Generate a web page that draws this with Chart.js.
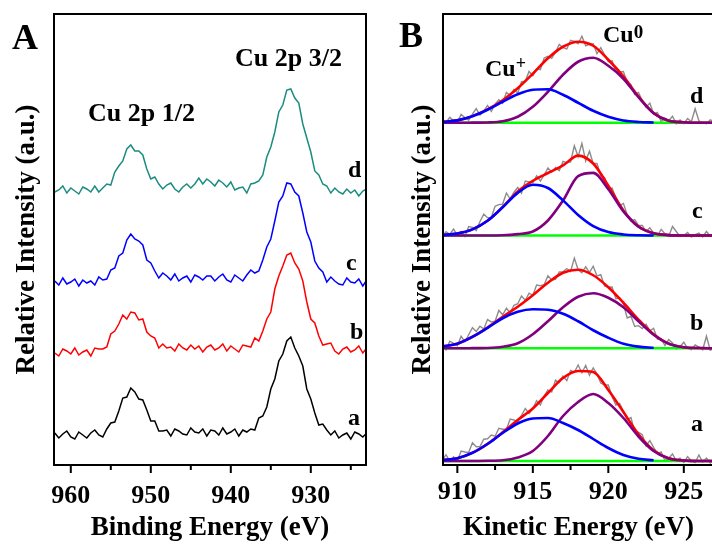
<!DOCTYPE html>
<html>
<head>
<meta charset="utf-8">
<script src="https://cdn.jsdelivr.net/npm/chart.js@4.4.0/dist/chart.umd.min.js"></script>
<style>
html, body { margin: 0; padding: 0; background: #fff; overflow: hidden; }
#wrap { position: relative; width: 712px; height: 545px; overflow: hidden; }
#cA { position: absolute; left: 0; top: 0; }
#cB { position: absolute; left: 380px; top: 0; }
.lbl { position: absolute; font-family: "Liberation Serif", "Times New Roman", serif; font-weight: bold; color: #000; white-space: nowrap; line-height: 1; }
.sup { position: relative; }
</style>
</head>
<body>
<div id="wrap">
  <canvas id="cA" width="380" height="545"></canvas>
  <canvas id="cB" width="340" height="545"></canvas>

  <div class="lbl" style="font-size:36px;left:12px;top:19px">A</div>
  <div class="lbl" style="font-size:36px;left:399px;top:17px">B</div>
  <div class="lbl" style="font-size:26px;left:235px;top:45px">Cu 2p 3/2</div>
  <div class="lbl" style="font-size:26px;left:88px;top:100px">Cu 2p 1/2</div>
  <div class="lbl" style="font-size:24px;left:348px;top:157px">d</div>
  <div class="lbl" style="font-size:24px;left:346px;top:250px">c</div>
  <div class="lbl" style="font-size:24px;left:350px;top:319px">b</div>
  <div class="lbl" style="font-size:24px;left:348px;top:405px">a</div>
  <div class="lbl" style="font-size:24px;left:690px;top:83px">d</div>
  <div class="lbl" style="font-size:24px;left:692px;top:198px">c</div>
  <div class="lbl" style="font-size:24px;left:690px;top:310px">b</div>
  <div class="lbl" style="font-size:24px;left:691px;top:411px">a</div>
  <div class="lbl" style="font-size:24px;left:485px;top:56px">Cu<span class="sup" style="font-size:18px;top:-7px">+</span></div>
  <div class="lbl" style="font-size:24px;left:603px;top:22px">Cu<span class="sup" style="font-size:19px;top:-4px">0</span></div>
</div>

<script>
// ---- panel A : Cu 2p spectra (binding energy, stacked by hand as in the figure)
const BE = [962,961.5,961,960.5,960,959.5,959,958.5,958,957.5,
  957,956.5,956,955.5,955,954.5,954,953.5,953,952.5,
  952,951.5,951,950.5,950,949.5,949,948.5,948,947.5,
  947,946.5,946,945.5,945,944.5,944,943.5,943,942.5,
  942,941.5,941,940.5,940,939.5,939,938.5,938,937.5,
  937,936.5,936,935.5,935,934.5,934,933.5,933,932.5,
  932,931.5,931,930.5,930,929.5,929,928.5,928,927.5,
  927,926.5,926,925.5,925,924.5,924,923.5,923];

const A_a = [32,27,31,34,28,26,33,30,27,32, 35,30,28,36,42,43,54,67,68,77,
  73,66,65,55,44,44,34,34,35,29, 36,34,31,30,37,33,32,36,29,35,
  34,30,37,31,33,36,29,35,33,36, 35,47,49,58,76,86,104,111,124,128,
  117,109,99,76,66,52,40,41,35,30, 34,27,30,32,26,33,31,28,32];
const A_b = [112,109,116,114,111,117,110,113,115,109, 117,116,116,118,131,134,141,150,146,153,
  152,145,146,133,129,127,117,121,117,118, 114,121,117,115,120,116,119,113,118,120,
  115,117,121,114,119,116,113,120,119,118, 127,124,134,146,153,176,189,199,210,212,
  202,196,184,163,146,142,129,120,121,122, 114,111,116,118,113,115,119,112,117];
const A_c = [184,180,187,181,183,186,179,185,182,184, 180,188,185,186,195,197,209,212,225,231,
  226,224,220,205,202,194,187,192,189,185, 191,184,187,189,183,190,188,185,189,189,
  184,188,191,185,183,190,187,184,190,195, 192,194,205,218,226,244,263,269,282,281,
  273,269,252,233,223,204,197,193,183,188, 184,181,180,187,183,182,186,179,185];
const A_d = [273,275,279,272,277,274,271,278,276,273, 279,273,277,281,280,293,299,304,316,320,
  314,314,310,296,286,288,281,276,280,282, 276,273,278,281,277,281,287,281,286,283,
  279,285,282,278,283,275,277,278,272,281, 282,284,290,308,318,333,353,360,375,376,
  367,362,341,327,313,294,290,281,279,272, 277,273,271,276,272,275,269,274,276];

const TICKS_A = [960, 950, 940, 930];
const MINOR_A = [955, 945, 935, 925];

// ---- panel B : Cu LMM (kinetic energy), four sub-panels d, c, b, a
const KE = [909,909.25,909.5,909.75,910,910.25,910.5,910.75,911,911.25,
  911.5,911.75,912,912.25,912.5,912.75,913,913.25,913.5,913.75,
  914,914.25,914.5,914.75,915,915.25,915.5,915.75,916,916.25,
  916.5,916.75,917,917.25,917.5,917.75,918,918.25,918.5,918.75,
  919,919.25,919.5,919.75,920,920.25,920.5,920.75,921,921.25,
  921.5,921.75,922,922.25,922.5,922.75,923,923.25,923.5,923.75,
  924,924.25,924.5,924.75,925,925.25,925.5,925.75,926,926.25,
  926.5,926.75,927];

const grayD = [3.8,0.1,5.5,1.9,0.4,8.3,5.2,2.4,8.6,14.1, 7.7,11.5,17.3,11.5,18.7,23.1,19.5,30.4,27.3,33.4,
  29.5,41,41.5,51.3,47,54,53,64.8,66.5,64.5, 70.5,78.3,75,73.8,82.5,81.3,79,86.5,77,78.5,
  79,69,75,68,61,62,51,50.7,51.3,40.2, 38,28.2,30.3,21.9,15.5,19.6,8.7,10.4,1,4.5,
  2,6.5,-1,2.8,-1,4.3,1,14,2,0, -1,3,1];
const grayC = [-2,3.8,1.1,6.5,0,3.9,-1,9,8.1,5, 14,21.4,17.7,18,29.3,30.9,31.4,42.5,36.5,43.3,
  48,42.3,54.5,53.6,52.7,59.6,54.5,60.5,67.5,63.3, 68,65,74.1,72.8,73.5,89.7,78.9,92.2,74.5,84.3,
  72,72,60,57.9,46.7,47.4,38,30,32.1,20.8, 14.5,15.8,10,10,4,7.7,2.3,-0.3,6.1,1.8,
  -1,9,4,-1,0,3,-1.5,1,2.5,-1.5, 4,-0.5,1.5];
const grayB = [3.8,-1.5,7,4.8,2.6,12,6.5,13.5,20.5,16.8, 22,19.3,28.7,26.3,27,37.8,33.5,40,35.5,43,
  44.5,52.3,48,55,53,63.3,62.5,63.5,72.5,68.3, 69,76.3,76.5,79.7,76.8,90.2,78.5,75.5,81.5,75.8,
  82,72.3,73.5,62.3,61,61.3,49.5,50.5,44.5,30.3, 32,21.8,22.6,19.8,24,17.5,20,9.3,9.5,2.6,
  8.6,5.4,-0.8,1.6,6,-0.2,-1.5,3.4,1.2,-1.5, 12,-2,0];
const grayA = [1,6.3,-0.3,4.2,-0.2,9.9,9,8.6,18.2,14.3, 14.5,21.8,22.2,26,24.8,32.7,31.7,31.8,42,41,
  39,45.7,52.5,47.5,52.5,60.3,56,65,71,69, 81,78.5,85,80.3,90.5,88.8,96,88.3,95.5,85.8,
  93,87,78,76,76,64.5,56,57.5,50,41.3, 43.5,29.2,28.8,26.4,15,20.4,13.7,7.4,9,0.4,
  2.7,7,0.2,2.9,-1.5,4.4,0.2,-1.5,6,-1, 3,-2,1];

// fitted components, sampled every 1 eV
const FIT_KE = [909,910,911,912,913,914,915,916,917,918,919,920,921,922,923,924,925,926,927];
const cuPlusD = [0.8,2.4,6.5,13,21,28.5,33,33.5,28,20,12,6,2.3,0.8,0.2,null,null,null,null];
const cuZeroD = [0,0,0.1,0.3,1.5,6,16,31,48,61,65,57,44,25.5,9.5,2,0.5,0,0];
const envD    = [0.8,2.4,6.6,13.3,22.5,34.5,49,64.5,76,81,77,63,46.3,26.3,9.7,2,0.5,0,0];
const cuPlusC = [0.5,2,6.1,14.7,28.2,42.6,50.7,47.5,35.1,20.5,9.4,3.4,1,0.2,0,null,null,null,null];
const cuZeroC = [0,0,0,0,0.2,1.4,4,15,35,59.4,62.6,46.3,24.1,8.8,2.3,0.4,0,0,0];
const envC    = [0.5,2,6.1,14.7,28.4,44,54.7,62.5,70.1,79.9,72,49.7,25.1,9,2.3,0.4,0,0,0];
const cuPlusB = [1.8,4.6,11.4,20.4,30,36.5,39,38.5,34.5,27,18,10.5,4.5,1.6,0.5,null,null,null,null];
const cuZeroB = [0,0,0.1,0.3,1.5,5,14,27,41,51.5,55,50.5,41,27,13.5,4.5,1,0.2,0];
const envB    = [1.8,4.6,11.5,20.7,31.5,41.5,53,65.5,75.5,78.5,73,61,45.5,28.6,14,4.6,1,0.2,0];
const cuPlusA = [1,2.8,8.2,17,28,37.5,42.5,43,38,31,22,13,6,2.3,0.7,null,null,null,null];
const cuZeroA = [0,0,0,0.2,0.7,3.5,10,25,45,59,67,58,43,24.5,10,2.5,0.5,0,0];
const envA    = [1,2.8,8.2,17.2,28.7,41,52.5,68,83,90,89,71,49,26.8,10.7,2.7,0.5,0,0];

const BASE_KE = [909, 927];
const BASE_Y = [0, 0];

const TICKS_B = [910, 915, 920, 925];
const MINOR_B = [912.5, 917.5, 922.5];

const FAM = '"Liberation Serif", "Times New Roman", serif';

function pts(xs, ys) { return xs.map((x, i) => ({ x: x, y: ys[i] })); }

// black frame + outward tick marks (long major, short minor)
const frameTicks = {
  id: 'frameTicks',
  afterDraw(chart, args, opts) {
    const { ctx, chartArea: { left, right, top, bottom } } = chart;
    const xs = chart.scales.x;
    ctx.save();
    ctx.strokeStyle = '#000';
    ctx.lineWidth = 2;
    ctx.strokeRect(left, top, right - left, bottom - top);
    ctx.beginPath();
    opts.major.forEach(v => { const p = xs.getPixelForValue(v); ctx.moveTo(p, bottom); ctx.lineTo(p, bottom + 8); });
    opts.minor.forEach(v => { const p = xs.getPixelForValue(v); ctx.moveTo(p, bottom); ctx.lineTo(p, bottom + 5); });
    ctx.stroke();
    ctx.restore();
  }
};

function xAxis(min, max, ticks, title, pad) {
  return {
    type: 'linear', min: min, max: max,
    grid: { display: false, drawTicks: false }, border: { display: false },
    afterBuildTicks: s => { s.ticks = ticks.map(v => ({ value: v })); },
    ticks: { autoSkip: false, maxRotation: 0, padding: pad, color: '#000', font: { family: FAM, size: 26, weight: 'bold' } },
    title: { display: true, text: title, color: '#000', font: { family: FAM, size: 27, weight: 'bold' }, padding: { top: 0, bottom: 1 } },
    afterFit: s => { s.height = 80; }
  };
}

function yTitle(width, pad) {
  return {
    position: 'left', min: 0, max: 1,
    grid: { display: false, drawTicks: false }, border: { display: false },
    ticks: { display: false },
    title: { display: true, text: 'Relative Intensity (a.u.)', color: '#000', font: { family: FAM, size: 27, weight: 'bold' }, padding: { top: pad, bottom: 0 } },
    afterFit: s => { s.width = width; }
  };
}

// ---- chart A
function spec(ys, color) {
  return { data: pts(BE, ys), yAxisID: 'y', borderColor: color, borderWidth: 1.5, pointRadius: 0, tension: 0 };
}
const axA = xAxis(923.1, 962.1, TICKS_A, 'Binding Energy (eV)', 16);
axA.reverse = true;
const yA = yTitle(54, 11);
yA.min = 0; yA.max = 451;

new Chart(document.getElementById('cA'), {
  type: 'line',
  data: { datasets: [spec(A_d, '#1a8c80'), spec(A_c, '#0000ff'), spec(A_b, '#ff0000'), spec(A_a, '#000000')] },
  options: {
    responsive: false, animation: false, events: [],
    layout: { padding: { left: 0, top: 14, right: 14, bottom: 0 } },
    plugins: { legend: { display: false }, tooltip: { enabled: false }, frameTicks: { major: TICKS_A, minor: MINOR_A } },
    scales: { x: axA, y: yA }
  },
  plugins: [frameTicks]
});

// ---- chart B
function sub(axis, gray, plus, zero, env) {
  const fit = (ys, color, order) => ({ data: pts(FIT_KE, ys), yAxisID: axis, borderColor: color, borderWidth: 2.6,
    pointRadius: 0, cubicInterpolationMode: 'monotone', order: order });
  return [
    { data: pts(KE, gray), yAxisID: axis, borderColor: '#8c8c8c', borderWidth: 1.4, pointRadius: 0, tension: 0, order: 4 },
    { data: pts(BASE_KE, BASE_Y), yAxisID: axis, borderColor: '#00ff00', borderWidth: 2.6, pointRadius: 0, order: 3 },
    fit(env, '#ff0000', 2),
    fit(zero, '#800080', 1),
    fit(plus, '#0000ff', 0)
  ];
}
function subAxis() {
  return { stack: 'kin', stackWeight: 1, position: 'left', display: false, min: -4, max: 108.75 };
}

new Chart(document.getElementById('cB'), {
  type: 'line',
  data: { datasets: [].concat(
    sub('yd', grayD, cuPlusD, cuZeroD, envD),
    sub('yc', grayC, cuPlusC, cuZeroC, envC),
    sub('yb', grayB, cuPlusB, cuZeroB, envB),
    sub('ya', grayA, cuPlusA, cuZeroA, envA)) },
  options: {
    responsive: false, animation: false, events: [],
    layout: { padding: { left: 0, top: 14, right: 6, bottom: 0 } },
    plugins: { legend: { display: false }, tooltip: { enabled: false }, frameTicks: { major: TICKS_B, minor: MINOR_B } },
    scales: {
      x: xAxis(909.05, 927, TICKS_B, 'Kinetic Energy (eV)', 12),
      yT: yTitle(63, 27),
      ya: subAxis(), yb: subAxis(), yc: subAxis(), yd: subAxis()
    }
  },
  plugins: [frameTicks]
});
</script>
</body>
</html>
